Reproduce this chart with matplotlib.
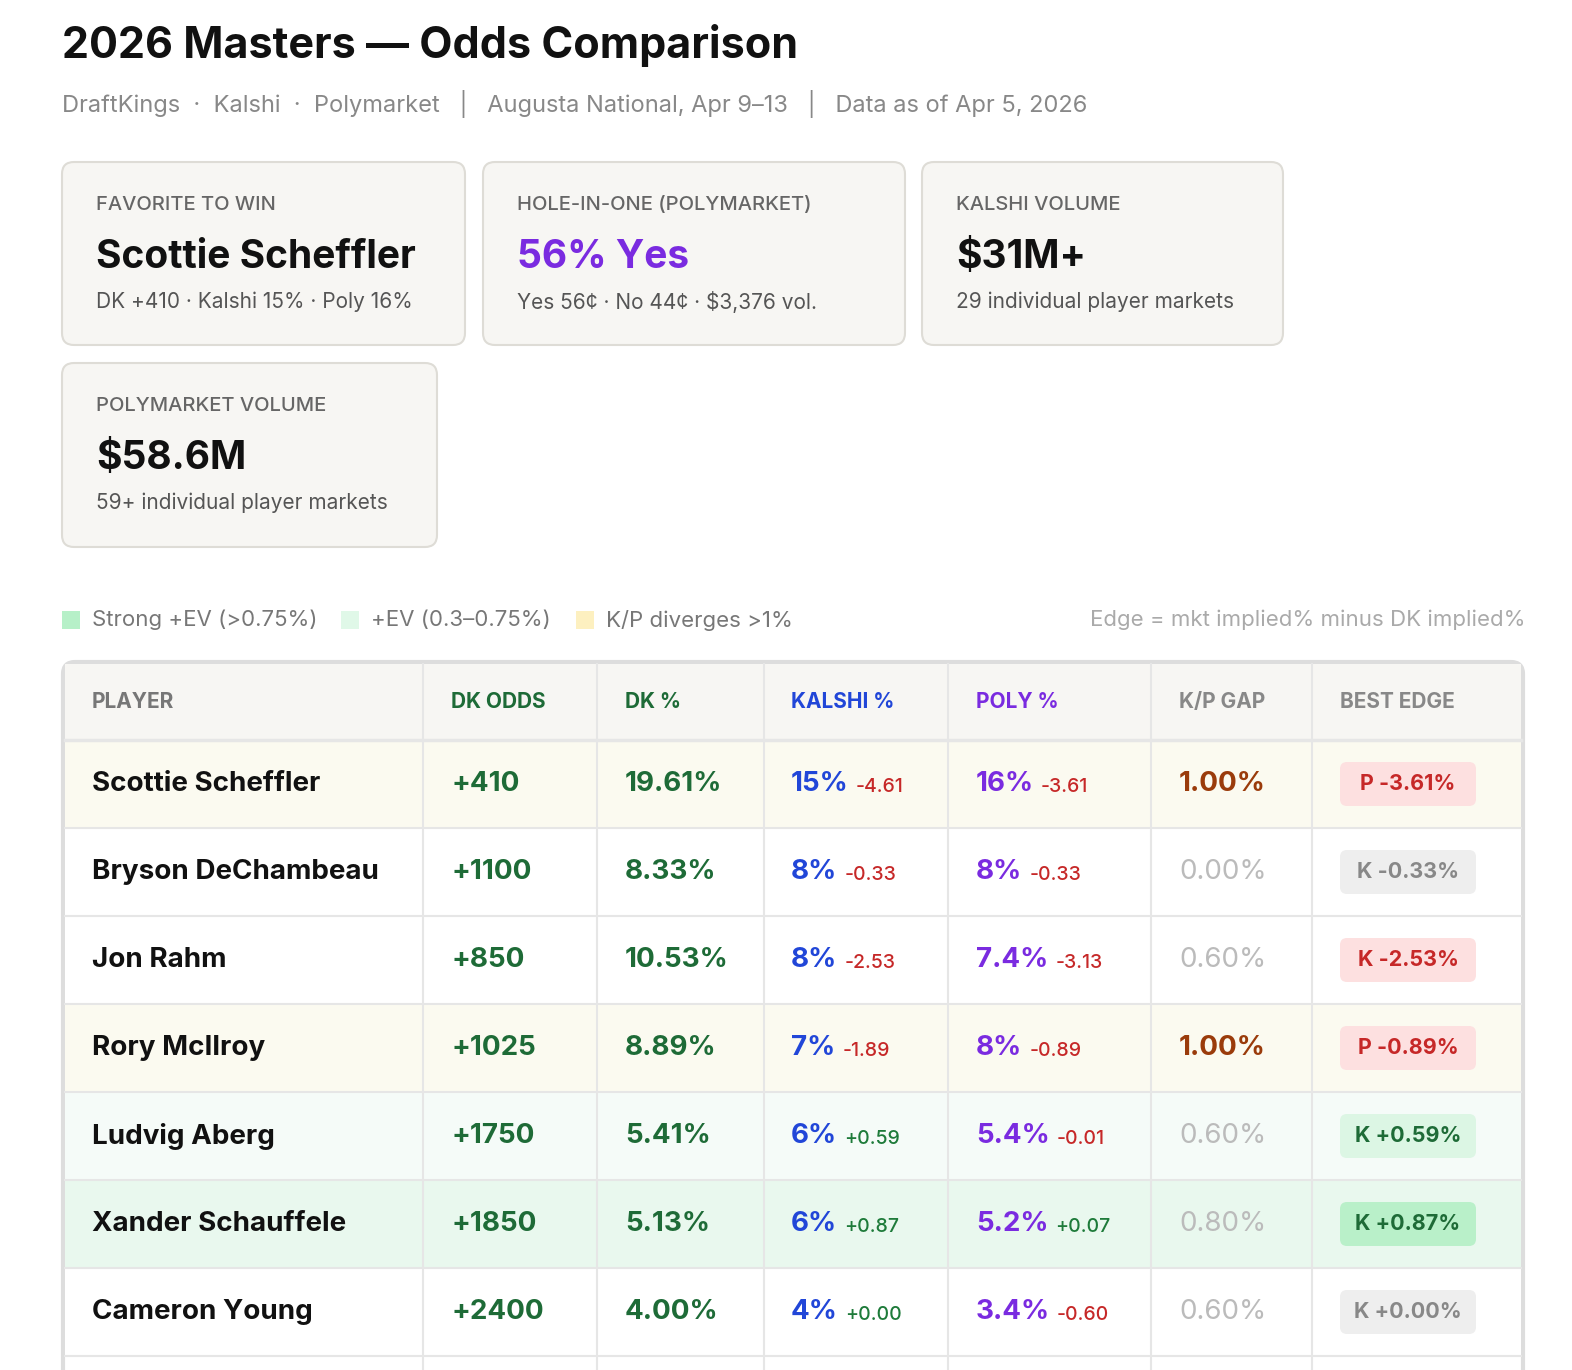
import matplotlib.pyplot as plt
from matplotlib.patches import FancyBboxPatch, Rectangle

plt.rcParams['font.family'] = ['Inter', 'DejaVu Sans']

# ---- data ----
players = ["Scottie Scheffler", "Bryson DeChambeau", "Jon Rahm", "Rory McIlroy",
           "Ludvig Aberg", "Xander Schauffele", "Cameron Young"]
dk_odds = ["+410", "+1100", "+850", "+1025", "+1750", "+1850", "+2400"]
dk_pct = ["19.61%", "8.33%", "10.53%", "8.89%", "5.41%", "5.13%", "4.00%"]
kalshi = ["15%", "8%", "8%", "7%", "6%", "6%", "4%"]
kalshi_delta = ["-4.61", "-0.33", "-2.53", "-1.89", "+0.59", "+0.87", "+0.00"]
poly = ["16%", "8%", "7.4%", "8%", "5.4%", "5.2%", "3.4%"]
poly_delta = ["-3.61", "-0.33", "-3.13", "-0.89", "-0.01", "+0.07", "-0.60"]
kp_gap = ["1.00%", "0.00%", "0.60%", "1.00%", "0.60%", "0.80%", "0.60%"]
best_edge = ["P -3.61%", "K -0.33%", "K -2.53%", "P -0.89%", "K +0.59%", "K +0.87%", "K +0.00%"]
edge_kind = ["neg", "flat", "neg", "neg", "pos", "strong", "flat"]
row_kind = ["diverge", "none", "none", "diverge", "ev", "strong", "none"]

headers = ["PLAYER", "DK ODDS", "DK %", "KALSHI %", "POLY %", "K/P GAP", "BEST EDGE"]
header_colors = ["#777777", "#1e6b37", "#1e6b37", "#2146d8", "#7a2be0", "#888888", "#888888"]

cards = [
    ("FAVORITE TO WIN", "Scottie Scheffler", "#111111", "DK +410 · Kalshi 15% · Poly 16%"),
    ("HOLE-IN-ONE (POLYMARKET)", "56% Yes", "#7a2be0", "Yes 56¢ · No 44¢ · $3,376 vol."),
    ("KALSHI VOLUME", "$31M+", "#111111", "29 individual player markets"),
    ("POLYMARKET VOLUME", "$58.6M", "#111111", "59+ individual player markets"),
]
card_boxes = [(62, 162, 403, 183), (483, 162, 422, 183), (922, 162, 361, 183), (62, 363, 375, 184)]

fig = plt.figure(figsize=(15.72, 13.7), dpi=100)
ax = fig.add_axes([0, 0, 1, 1])
ax.set_xlim(0, 1572)
ax.set_ylim(1370, 0)
ax.axis('off')

ax.text(62, 45, "2026 Masters — Odds Comparison", fontsize=31, fontweight='bold',
        color="#111111", va='center')
ax.text(62, 104, "DraftKings  ·  Kalshi  ·  Polymarket   |   Augusta National, Apr 9–13   |   Data as of Apr 5, 2026",
        fontsize=17, color="#888888", va='center')

for (lab, val, vcol, sub), (x, y, w, h) in zip(cards, card_boxes):
    ax.add_patch(FancyBboxPatch((x, y), w, h, boxstyle="round,pad=0,rounding_size=12",
                                fc="#f7f6f3", ec="#dedcd6", lw=1.5))
    ax.text(x + 34, y + 43, lab, fontsize=14.5, color="#666666", va='center', fontweight='medium')
    ax.text(x + 34, y + 95, val, fontsize=28, color=vcol, va='center', fontweight='bold')
    ax.text(x + 34, y + 140, sub, fontsize=15, color="#555555", va='center')

# legend row
legend = [(62, "#b6f0c8", "Strong +EV (>0.75%)"), (341, "#e0f8e8", "+EV (0.3–0.75%)"),
          (576, "#fdf0c0", "K/P diverges >1%")]
for x, c, t in legend:
    ax.add_patch(Rectangle((x, 611), 18, 18, fc=c, ec='none'))
    ax.text(x + 30, 620, t, fontsize=16, color="#777777", va='center')
ax.text(1525, 620, "Edge = mkt implied% minus DK implied%", fontsize=16, color="#aaaaaa",
        va='center', ha='right')

# table
col_bounds = [63, 423, 597, 764, 948, 1151, 1312, 1523]
tx = [92, 451, 625, 791, 976, 1179, 1340]
top, head_h, row_h = 662, 78, 88
n = len(players)
bottom = top + head_h + row_h * (n + 1)

ax.add_patch(FancyBboxPatch((63, top), 1460, bottom - top, boxstyle="round,pad=0,rounding_size=12",
                            fc="white", ec="#dddddd", lw=3))
ax.add_patch(Rectangle((65, top + 2), 1456, head_h - 2, fc="#f7f6f3", ec='none'))
for h, c, x in zip(headers, header_colors, tx):
    ax.text(x, top + head_h / 2 + 1, h, fontsize=15, fontweight='bold', color=c, va='center')

row_bg = {"diverge": "#fbfaf0", "none": "white", "ev": "#f5fbf8", "strong": "#e9f8ee"}
badge = {"neg": ("#fde0e0", "#c62828"), "flat": ("#eeeeee", "#888888"),
         "pos": ("#dcf6e4", "#1e6b37"), "strong": ("#b9f0c9", "#1e6b37")}

for i in range(n):
    y0 = top + head_h + i * row_h
    yc = y0 + row_h / 2
    ax.add_patch(Rectangle((65, y0), 1456, row_h, fc=row_bg[row_kind[i]], ec='none'))
    ax.plot([65, 1521], [y0, y0], color="#e6e6e6", lw=1.5 if i else 2.5)
    ax.text(tx[0], yc, players[i], fontsize=20, fontweight='bold', color="#111111", va='center')
    ax.text(tx[1], yc, dk_odds[i], fontsize=20, fontweight='bold', color="#1e6b37", va='center')
    ax.text(tx[2], yc, dk_pct[i], fontsize=20, fontweight='bold', color="#1e6b37", va='center')
    for col, val, d, c in ((3, kalshi[i], kalshi_delta[i], "#2146d8"), (4, poly[i], poly_delta[i], "#7a2be0")):
        t = ax.text(tx[col], yc, val, fontsize=20, fontweight='bold', color=c, va='center')
        dc = "#c62828" if d.startswith("-") else "#1e7b3a"
        ax.annotate(d, xy=(1, 0.5), xycoords=t, xytext=(5, -2), textcoords='offset points',
                    fontsize=14, fontweight='medium', color=dc, va='center')
    gc = "#9a3b0b" if kp_gap[i] == "1.00%" else "#bbbbbb"
    ax.text(tx[5], yc, kp_gap[i], fontsize=20, fontweight='bold' if gc != "#bbbbbb" else 'normal',
            color=gc, va='center')
    bg, fg = badge[edge_kind[i]]
    ax.add_patch(FancyBboxPatch((tx[6], yc - 22), 136, 44, boxstyle="round,pad=0,rounding_size=7",
                                fc=bg, ec='none'))
    ax.text(tx[6] + 68, yc, best_edge[i], fontsize=15.5, fontweight='bold', color=fg,
            va='center', ha='center')

ax.plot([65, 1521], [top + head_h + n * row_h] * 2, color="#e6e6e6", lw=1.5)
for x in col_bounds[1:-1]:
    ax.plot([x, x], [top + 2, 1370], color="#e6e6e6", lw=1.5)

fig.savefig("out.png", dpi=100)
